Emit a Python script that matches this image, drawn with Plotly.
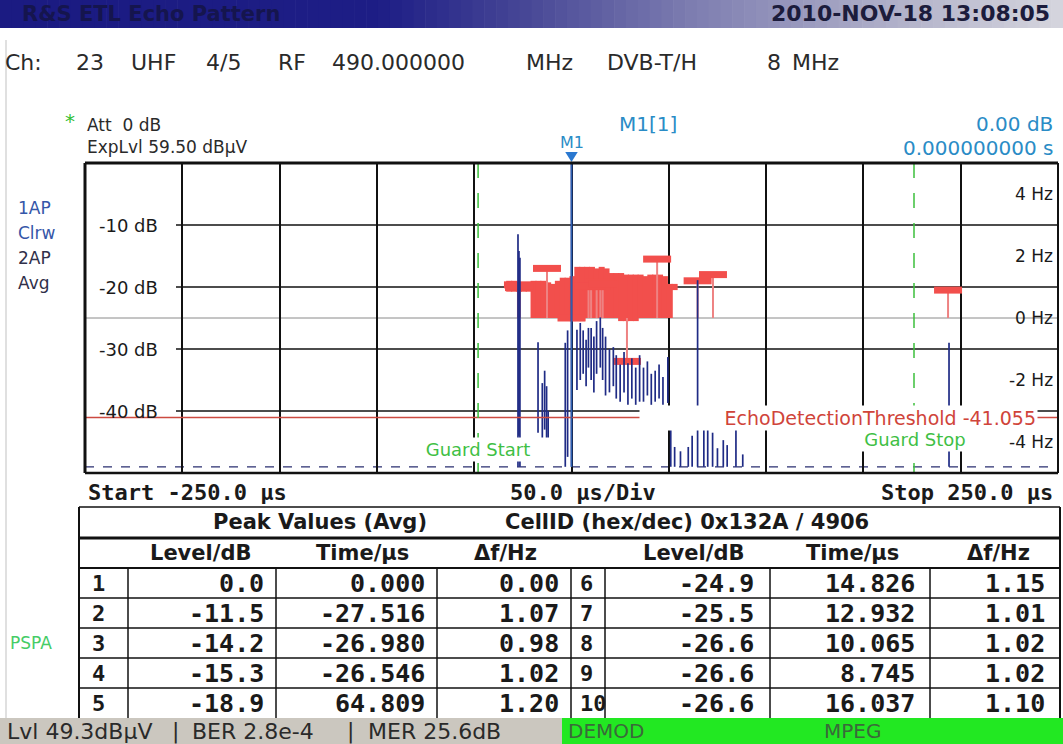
import plotly.graph_objects as go

W, H = 1063, 744

# ---- values ----
peak_no = [1, 2, 3, 4, 5, 6, 7, 8, 9, 10]
peak_level_db = [0.0, -11.5, -14.2, -15.3, -18.9, -24.9, -25.5, -26.6, -26.6, -26.6]
peak_time_us = [0.000, -27.516, -26.980, -26.546, 64.809, 14.826, 12.932, 10.065, 8.745, 16.037]
peak_df_hz = [0.00, 1.07, 0.98, 1.02, 1.20, 1.15, 1.01, 1.02, 1.02, 1.10]

# echo trace 1 (Clrw), min/max per column
echo_t_us = [-27.5, -27.0, -26.5, -17.2, -15.0, -13.8, -12.8, -12.0, -3.2, -2.0, 0.0,
             2.8, 4.5, 6.0, 7.5, 8.7, 10.1, 11.5, 12.9, 14.8, 16.0, 17.5,
             19.5, 21.5, 23.0, 25.0, 27.0, 29.0, 31.0, 33.0, 35.0,
             37.0, 39.0, 41.0, 43.0, 45.0, 47.0, 49.5,
             51.0, 53.0, 56.0, 60.0, 62.0, 64.8, 68.0, 70.0, 72.5, 75.0, 78.0, 80.0, 84.5, 88.0,
             194.0]
echo_max_db = [-11.5, -14.2, -15.3, -28.9, -35.5, -33.5, -36.0, -40.0, -29.0, -27.0, 0.0,
               -26.9, -25.8, -27.0, -28.5, -26.6, -26.6, -28.0, -25.5, -24.9, -26.6, -28.0,
               -30.0, -29.7, -31.0, -32.5, -30.5, -32.3, -31.5, -33.0, -31.0,
               -33.0, -32.0, -34.0, -33.5, -32.5, -34.5, -31.3,
               -42.7, -45.8, -46.5, -45.8, -44.0, -18.9, -43.0, -42.8, -43.5, -46.0, -44.7, -45.5, -42.6, -47.0,
               -29.0]
echo_min_db = [-49.0, -44.0, -49.0, -43.5, -44.5, -43.0, -46.0, -48.0, -49.0, -47.4, -49.0,
               -36.6, -35.0, -34.0, -36.0, -33.0, -35.0, -37.0, -34.0, -33.0, -35.0, -37.5,
               -37.0, -36.0, -38.0, -38.5, -37.0, -39.0, -38.0, -39.0, -38.5,
               -38.5, -37.5, -39.0, -38.5, -38.0, -39.0, -38.7,
               -49.0, -49.0, -49.0, -49.0, -49.0, -49.0, -49.0, -49.0, -49.0, -49.0, -49.0, -49.0, -49.0, -49.0,
               -49.0]

# doppler of further echoes (trace 2, Avg)
dop_t_us = [-12.6, 44.0, 72.7, 28.5, 193.5]
dop_hz = [1.6, 1.9, 1.4, -1.4, 0.9]

# dense doppler cluster around the main path
cluster_t_us = [-32.0, -29.5, -27.0, -24.5, -22.0, -19.5, -17.0, -14.5, -12.0, -9.5, -7.0, -4.5, -2.0,
                0.5, 3.0, 5.5, 8.0, 10.5, 13.0, 15.5, 18.0, 20.5, 23.0, 25.5, 28.0, 30.5, 33.0,
                35.5, 38.0, 40.5, 43.0, 45.5, 48.0, 50.5, 53.0]
cluster_top_hz = [1.20, 1.20, 1.15, 1.10, 1.15, 1.20, 1.20, 1.20, 1.15, 1.10, 1.20, 1.30, 1.30,
                  1.35, 1.65, 1.65, 1.65, 1.65, 1.60, 1.65, 1.60, 1.45, 1.45, 1.45, 1.40, 1.40, 1.40,
                  1.40, 1.35, 1.40, 1.40, 1.40, 1.35, 1.10, 1.10]
cluster_bot_hz = [0.85, 0.85, 0.85, 0.85, 0.85, 0.00, 0.00, 0.00, 0.00, 0.00, 0.00, 0.00, 0.00,
                  -0.10, -0.10, -0.10, 0.00, 0.00, 0.00, 0.00, 0.00, 0.00, 0.00, -0.10, -0.10, -0.10, -0.10,
                  0.00, 0.00, 0.00, 0.00, 0.00, 0.00, 0.00, 0.90]

threshold_db = -41.055
guard_start_us = -48.0
guard_stop_us = 176.0
marker_t_us = 0.0

db_ticks = [-10, -20, -30, -40]
hz_ticks = [4, 2, 0, -2, -4]

SANS = "DejaVu Sans"
MONO = "DejaVu Sans Mono"
RED = "#f24f4c"
NAVY = "#1f2b85"
GREEN = "#3fbf45"
TEAL = "#2a8cc6"

# plot area in screen pixels
PL, PR, PT, PB = 85, 1058, 163, 473


def fx(x):
    return x / W


def fy(y):
    return 1 - y / H


fig = go.Figure()

# red doppler cluster (Hz axis = y)
fig.add_trace(go.Bar(
    x=cluster_t_us,
    y=[t - b for t, b in zip(cluster_top_hz, cluster_bot_hz)],
    base=cluster_bot_hz, width=3.1,
    marker=dict(color=RED, line_width=0),
    yaxis="y", hoverinfo="skip", showlegend=False))

all_t = peak_time_us + dop_t_us
all_f = peak_df_hz + dop_hz
stem_x, stem_y = [], []
for t, f in zip(all_t, all_f):
    stem_x += [t, t, None]
    stem_y += [0, f, None]
fig.add_trace(go.Scatter(x=stem_x, y=stem_y, mode="lines",
                         line=dict(color="#ee8282", width=2),
                         yaxis="y", hoverinfo="skip", showlegend=False))
fig.add_trace(go.Scatter(x=all_t, y=all_f, mode="markers",
                         marker=dict(symbol="line-ew", size=20, line=dict(color=RED, width=7)),
                         yaxis="y", hoverinfo="skip", showlegend=False))

# blue echo trace (dB axis = y2, drawn on top)
seg_x, seg_y = [], []
for t, hi, lo in zip(echo_t_us, echo_max_db, echo_min_db):
    seg_x += [t, t, None]
    seg_y += [hi, lo, None]
fig.add_trace(go.Scatter(x=seg_x, y=seg_y, mode="lines",
                         line=dict(color=NAVY, width=1.7),
                         yaxis="y2", hoverinfo="skip", showlegend=False))

shapes = []


def line(x0, y0, x1, y1, color="#111", width=1.5, xref="paper", yref="paper", dash=None, layer="above"):
    d = dict(type="line", x0=x0, y0=y0, x1=x1, y1=y1, xref=xref, yref=yref,
             line=dict(color=color, width=width), layer=layer)
    if dash:
        d["line"]["dash"] = dash
    shapes.append(d)


def rect(x0, y0, x1, y1, color):
    shapes.append(dict(type="rect", x0=fx(x0), x1=fx(x1), y0=fy(y1), y1=fy(y0),
                       xref="paper", yref="paper", fillcolor=color, line_width=0, layer="below"))


# title bar gradient
stops = [(0, (27, 27, 130)), (380, (30, 30, 134)), (520, (70, 70, 150)),
         (700, (128, 128, 178)), (900, (178, 178, 202)), (1063, (214, 214, 222))]
n = 90
for i in range(n):
    x0, x1 = W * i / n, W * (i + 1) / n
    xm = (x0 + x1) / 2
    for (a, ca), (b, cb) in zip(stops[:-1], stops[1:]):
        if a <= xm <= b:
            k = (xm - a) / (b - a)
            c = tuple(int(ca[j] + (cb[j] - ca[j]) * k) for j in range(3))
            break
    rect(x0, 0, x1 + 0.6, 28, "rgb(%d,%d,%d)" % c)

# screen frame
line(fx(6), fy(40), fx(6), fy(718), color="#d6d6d6", width=1.5)

# dB grid (label text sits left of the line)
for v in db_ticks:
    line(fx(176), v, fx(PR), v, yref="y2", layer="below")
# 0 Hz line
line(fx(PL), 0, fx(PR), 0, yref="y", color="#8a8a8a", width=1, layer="below")
# floor of the echo trace
line(-250, -49, 250, -49, xref="x", yref="y2", color="#2a2f70", width=1.3, dash="dash", layer="below")
# threshold
line(fx(PL), threshold_db, fx(PR), threshold_db, yref="y2", color="#cc4a40", width=1.5)
# guard interval
for g in (guard_start_us, guard_stop_us):
    line(g, fy(PT), g, fy(PB), xref="x", color="#3cc03c", width=1.5, dash="longdash")
# marker line
line(marker_t_us, fy(PT), marker_t_us, fy(PB - 6), xref="x", color="#2d5fb0", width=1.6)
shapes.append(dict(type="path", xref="x", yref="paper",
                   path="M %f,%f L %f,%f L %f,%f Z" % (marker_t_us - 3.2, fy(152), marker_t_us + 3.2, fy(152),
                                                       marker_t_us, fy(162)),
                   fillcolor="#2a78d0", line_width=0))
# plot frame
line(fx(PL), fy(PT), fx(PR), fy(PT), width=3)
line(fx(PL), fy(PT), fx(PL), fy(PB), width=3)
line(fx(PR), fy(PT), fx(PR), fy(PB), width=2)
line(fx(PL), fy(PB), fx(PR), fy(PB), width=2.5)

# table
TL, TR = 79, 1060
line(fx(TL), fy(507), fx(TR), fy(507))
line(fx(TL), fy(538), fx(TR), fy(538), width=3)
line(fx(TL), fy(568), fx(TR), fy(568), width=2)
for yy in (598, 628, 658, 688):
    line(fx(TL), fy(yy), fx(TR), fy(yy), width=1.5)
line(fx(TL), fy(507), fx(TL), fy(718), width=2)
line(fx(TR), fy(507), fx(TR), fy(718), width=2)
for xx in (128, 276, 437, 571, 605, 770, 930):
    line(fx(xx), fy(568), fx(xx), fy(718), width=1.5)

# status bar
rect(0, 718, 562, 744, "#cbc7bf")
rect(562, 718, W, 744, "#22e822")

ann = []


def text(x, y, s, size=18, color="#1a1a1a", xanchor="left", family=SANS, bg=None,
         xref="paper", yref="paper", width=None, align=None):
    a = dict(x=fx(x) if xref == "paper" else x, y=fy(y) if yref == "paper" else y,
             xref=xref, yref=yref, text=s, showarrow=False, xanchor=xanchor, yanchor="middle",
             font=dict(family=family, size=size, color=color), borderpad=1)
    if bg:
        a["bgcolor"] = bg
    if width:
        a["width"] = width
    if align:
        a["align"] = align
    ann.append(a)


# header
text(20, 14, "<b>R&S ETL Echo Pattern</b>", size=21, color="#15154e")
text(1052, 14, "<b>2010-NOV-18 13:08:05</b>", size=22, color="#1c1c3c", xanchor="right")
for x, s in [(3, "Ch:"), (74, "23"), (129, "UHF"), (204, "4/5"), (276, "RF"), (330, "490.000000"),
             (524, "MHz"), (605, "DVB-T/H"), (765, "8"), (790, "MHz")]:
    text(x, 62, s, size=22, color="#2a2a2a")

text(70, 121, "*", size=20, color="#33c033", xanchor="center")
text(85, 125, "Att  0 dB", size=17, color="#2a2a2a")
text(85, 147, "ExpLvl 59.50 dBµV", size=17, color="#2a2a2a")
text(648, 124, "M1[1]", size=20, color=TEAL, xanchor="center")
text(1055, 124, "0.00 dB", size=20, color=TEAL, xanchor="right")
text(1055, 148, "0.000000000 s", size=20, color=TEAL, xanchor="right")
text(marker_t_us, 142, "M1", size=16, color=TEAL, xanchor="center", xref="x")

# trace labels
for y, s, c in [(208, "1AP", "#3556a8"), (233, "Clrw", "#3556a8"), (258, "2AP", "#30304a"), (283, "Avg", "#30304a")]:
    text(16, y, s, size=17, color=c)
text(8, 643, "PSPA", size=17, color="#45cc66")

# axis labels inside the plot
for v in db_ticks:
    text(97, v, "%d dB" % v, size=18, yref="y2")
for v in hz_ticks:
    text(1055, v, "%d Hz" % v, size=17, yref="y", xanchor="right")

text(1038, threshold_db, "EchoDetectionThreshold -41.055", size=19, color="#d0443a",
     xanchor="right", bg="white", width=395, align="right", yref="y2")
text(478, 449, "Guard Start", size=18, color=GREEN, xanchor="center", bg="white", width=140)
text(915, 439, "Guard Stop", size=18, color=GREEN, xanchor="center", bg="white", width=136)

# below the plot
text(86, 492, "<b>Start -250.0 µs</b>", size=22, family=MONO)
text(583, 492, "<b>50.0 µs/Div</b>", size=22, family=MONO, xanchor="center")
text(1055, 492, "<b>Stop 250.0 µs</b>", size=22, family=MONO, xanchor="right")
text(320, 522, "<b>Peak Values (Avg)</b>", size=21, xanchor="center")
text(503, 522, "<b>CellID (hex/dec) 0x132A / 4906</b>", size=21)
for xc, s in [(200, "Level/dB"), (362, "Time/µs"), (505, "Δf/Hz"), (693, "Level/dB"), (852, "Time/µs"), (998, "Δf/Hz")]:
    text(xc, 553, "<b>%s</b>" % s, size=21, xanchor="center")

for i in range(10):
    row = i % 5
    y = 583 + 30 * row
    if i < 5:
        xi, xl, xt, xd = 90, 266, 427, 561
    else:
        xi, xl, xt, xd = 578, 756, 917, 1047
    text(xi, y, "<b>%d</b>" % peak_no[i], size=22, family=MONO)
    text(xl, y, "<b>%.1f</b>" % peak_level_db[i], size=25, family=MONO, xanchor="right")
    text(xt, y, "<b>%.3f</b>" % peak_time_us[i], size=25, family=MONO, xanchor="right")
    text(xd, y, "<b>%.2f</b>" % peak_df_hz[i], size=25, family=MONO, xanchor="right")

for x, s in [(5, "Lvl 49.3dBµV"), (170, "|"), (190, "BER 2.8e-4"), (345, "|"), (366, "MER 25.6dB")]:
    text(x, 731, s, size=22, color="#2a2a2a")
text(566, 731, "DEMOD", size=20, color="#3a6a3a")
text(822, 731, "MPEG", size=20, color="#3a6a3a")

fig.update_layout(
    width=W, height=H,
    margin=dict(l=0, r=0, t=0, b=0),
    paper_bgcolor="white", plot_bgcolor="white",
    showlegend=False, barmode="overlay",
    xaxis=dict(domain=[fx(PL), fx(PR)], range=[-250, 250],
               tickvals=[-200, -150, -100, -50, 0, 50, 100, 150, 200],
               showticklabels=False, ticks="", showgrid=True, gridcolor="#111", gridwidth=1.5,
               zeroline=False, showline=False),
    yaxis=dict(domain=[fy(PB), fy(PT)], range=[-5, 5], side="right",
               showgrid=False, showticklabels=False, ticks="", zeroline=False, showline=False),
    yaxis2=dict(range=[-50, 0], overlaying="y", side="left",
                showgrid=False, showticklabels=False, ticks="", zeroline=False, showline=False),
    shapes=shapes,
    annotations=ann,
)

fig.write_html("out.html", config={"displayModeBar": False},
               post_script="document.body.style.margin='0px';")
